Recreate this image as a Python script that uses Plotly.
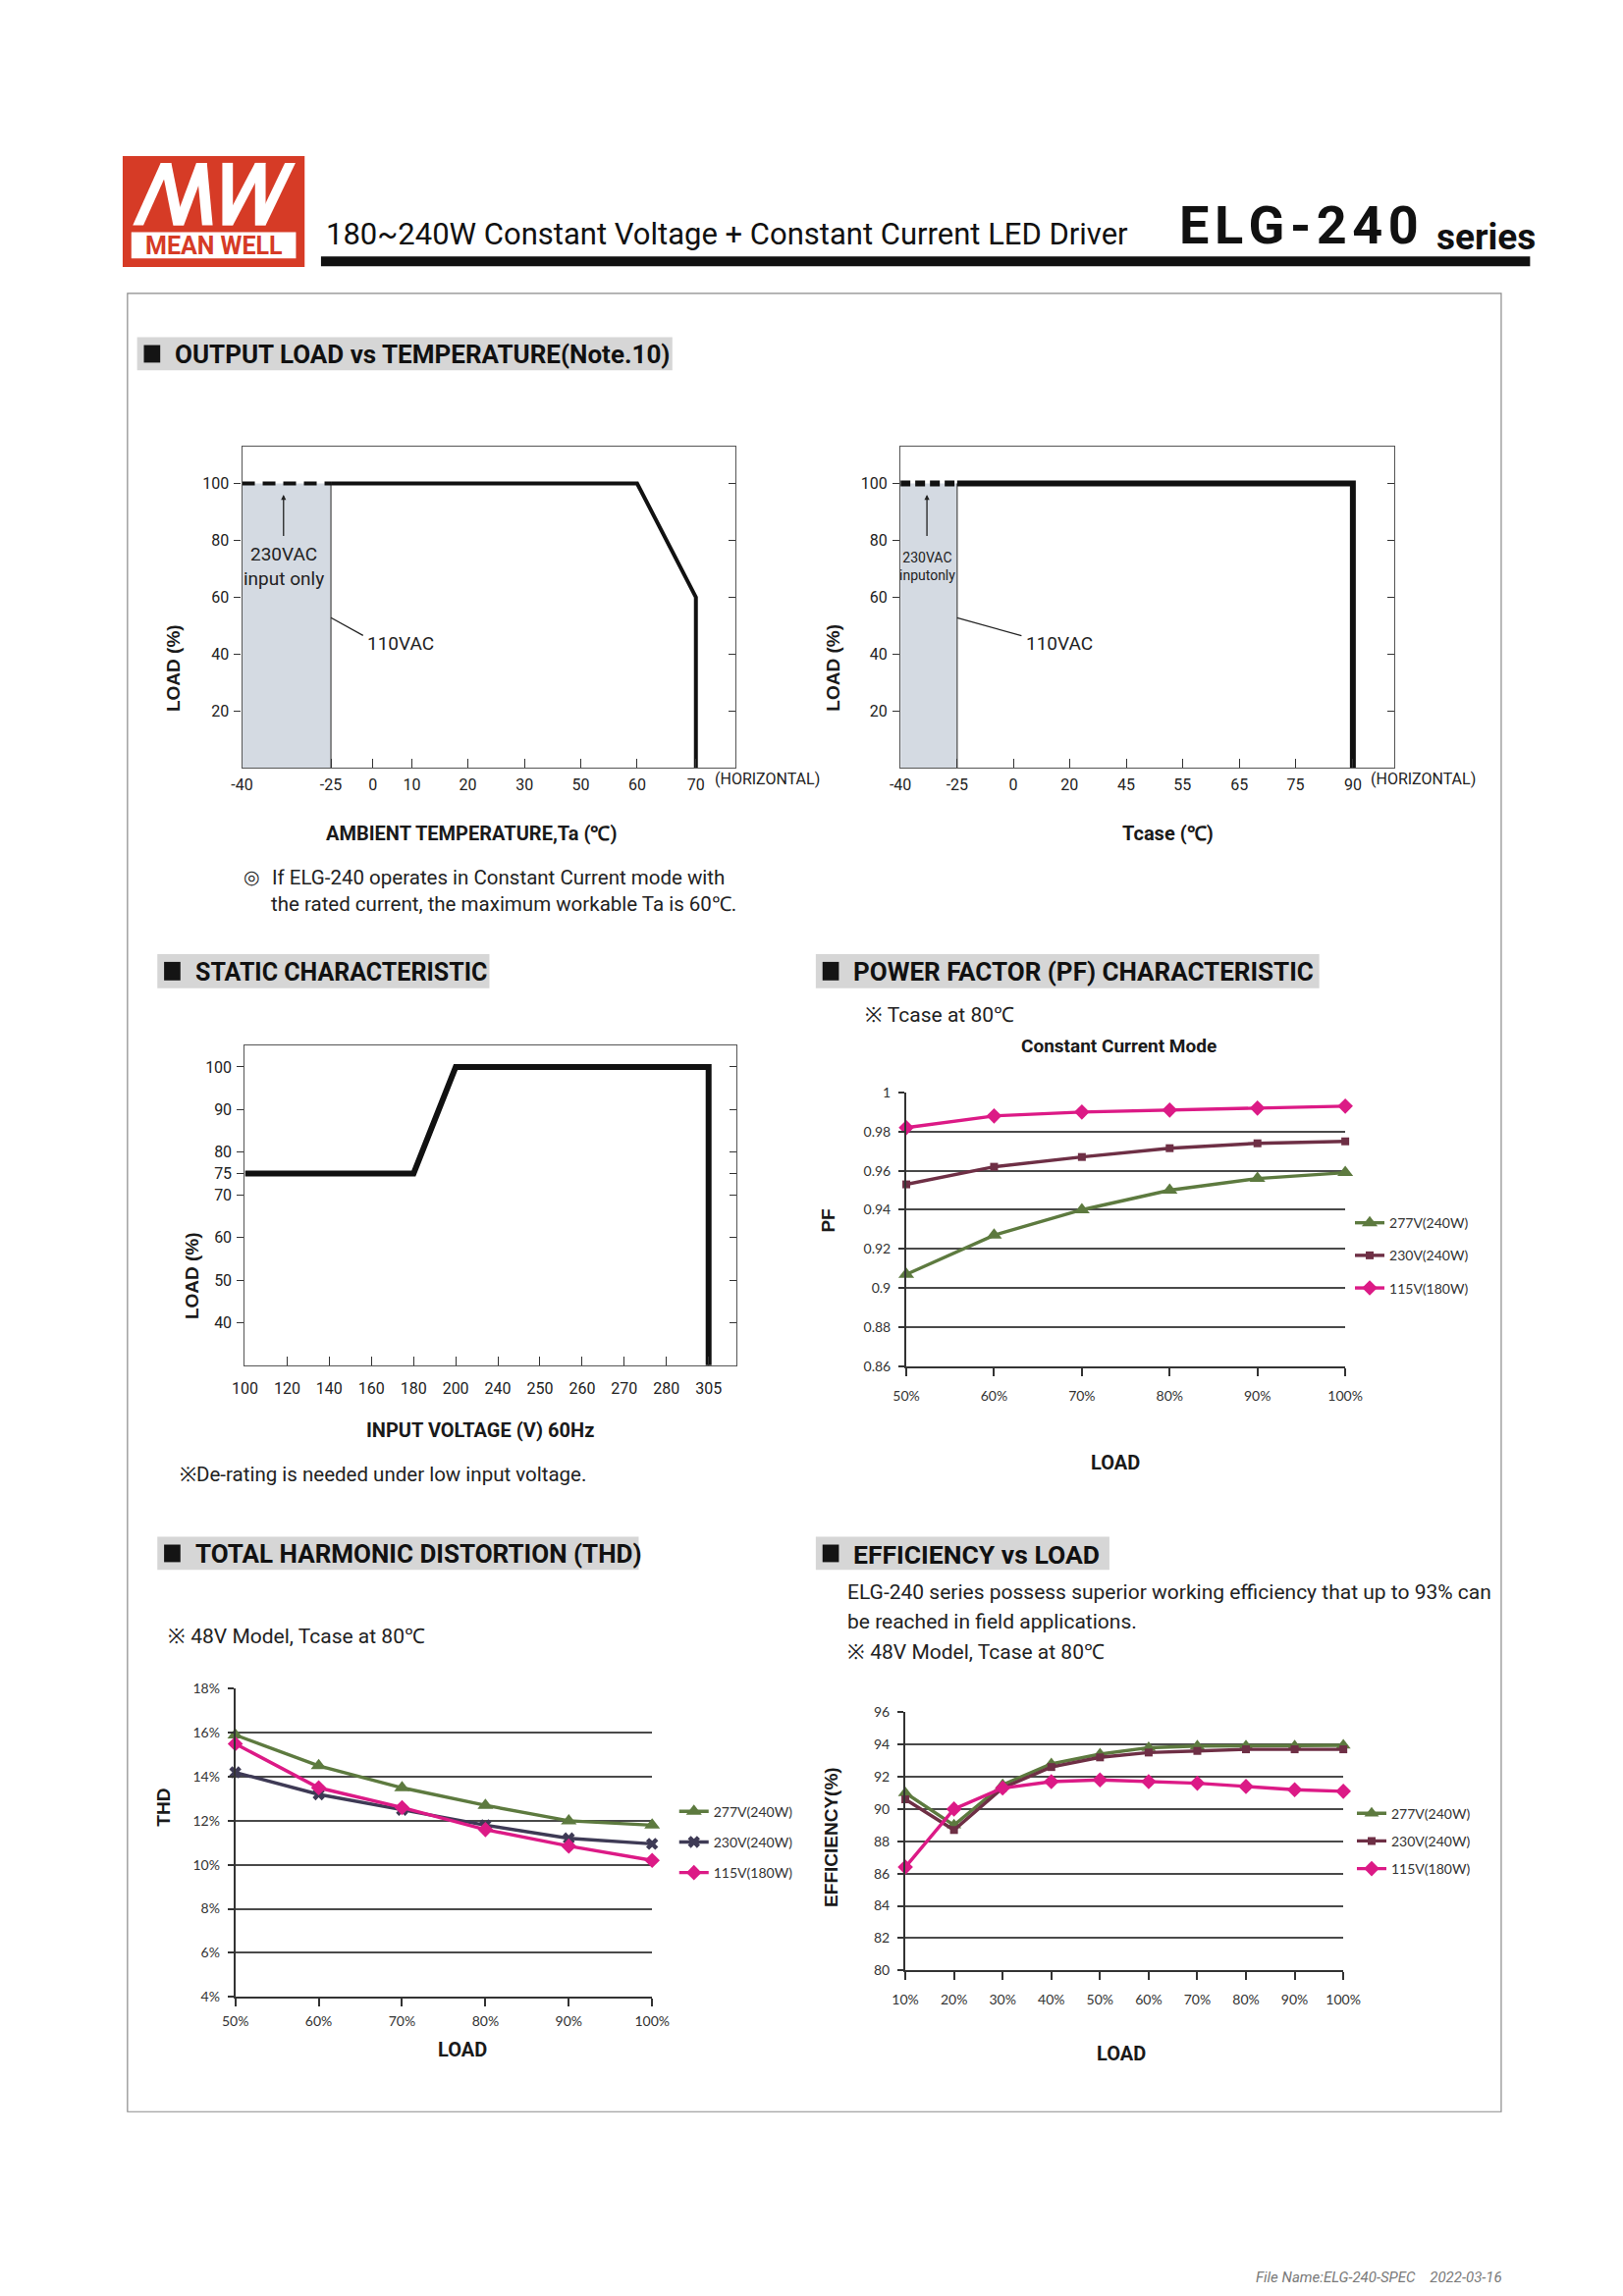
import numpy as np
import plotly.graph_objects as go

# page is 1653 x 2339; the browser body keeps its default 8px margin
PAGE_W, PAGE_H, OFF = 1653, 2339, 8
W, H = PAGE_W - 2 * OFF, PAGE_H - 2 * OFF

# ===================== DATA =====================
# Output load vs ambient temperature (left derating chart)
ta_tick_values = [-40, -25, 0, 10, 20, 30, 50, 60, 70]
ta_tick_labels = ["-40", "-25", "0", "10", "20", "30", "50", "60", "70"]
ta_solid_temp = [-25, 60, 70, 70]
ta_solid_load = [100, 100, 60, 0]
ta_dash_temp = [-40, -25]
ta_dash_load = [100, 100]

# Output load vs Tcase (right derating chart)
tc_tick_values = [-40, -25, 0, 20, 45, 55, 65, 75, 90]
tc_tick_labels = ["-40", "-25", "0", "20", "45", "55", "65", "75", "90"]
tc_solid_temp = [-25, 90, 90]
tc_solid_load = [100, 100, 0]
tc_dash_temp = [-40, -25]
tc_dash_load = [100, 100]

shade_temp = [-40, -25]          # "230VAC input only" zone
shade_load = 100
derate_y_ticks = [20, 40, 60, 80, 100]

# Static characteristic
vin_tick_values = [100, 120, 140, 160, 180, 200, 240, 250, 260, 270, 280, 305]
vin_tick_labels = [str(v) for v in vin_tick_values]
static_vin = [100, 180, 200, 305, 305]
static_load = [75, 75, 100, 100, 0]
static_y_ticks = [40, 50, 60, 70, 75, 80, 90, 100]

# Power factor (Constant Current Mode)
pf_load = ["50%", "60%", "70%", "80%", "90%", "100%"]
pf_277v = [0.907, 0.927, 0.940, 0.950, 0.956, 0.959]
pf_230v = [0.953, 0.962, 0.967, 0.9715, 0.974, 0.975]
pf_115v = [0.982, 0.988, 0.990, 0.991, 0.992, 0.993]
pf_tick_values = [0.86, 0.88, 0.90, 0.92, 0.94, 0.96, 0.98, 1.0]
pf_tick_labels = ["0.86", "0.88", "0.9", "0.92", "0.94", "0.96", "0.98", "1"]

# Total harmonic distortion
thd_load = ["50%", "60%", "70%", "80%", "90%", "100%"]
thd_277v = [15.9, 14.5, 13.5, 12.7, 12.0, 11.8]
thd_230v = [14.2, 13.2, 12.5, 11.8, 11.2, 10.95]
thd_115v = [15.5, 13.5, 12.6, 11.6, 10.85, 10.2]
thd_tick_values = [4, 6, 8, 10, 12, 14, 16, 18]
thd_tick_labels = ["4%", "6%", "8%", "10%", "12%", "14%", "16%", "18%"]

# Efficiency vs load
eff_load = ["10%", "20%", "30%", "40%", "50%", "60%", "70%", "80%", "90%", "100%"]
eff_277v = [91.0, 89.0, 91.5, 92.8, 93.4, 93.8, 93.9, 93.9, 93.9, 93.95]
eff_230v = [90.6, 88.7, 91.3, 92.6, 93.2, 93.5, 93.6, 93.7, 93.7, 93.7]
eff_115v = [86.4, 90.0, 91.3, 91.7, 91.8, 91.7, 91.6, 91.4, 91.2, 91.1]
eff_tick_values = [80, 82, 84, 86, 88, 90, 92, 94, 96]

series_names = ["277V(240W)", "230V(240W)", "115V(180W)"]

# ===================== STYLE =====================
NARROW = "Roboto, 'Liberation Sans', sans-serif"
ARIAL = "'Liberation Sans', Arial, sans-serif"
CAL = "Lato, 'Open Sans', sans-serif"
GREEN = "#5d7a3f"
MAROON = "#6e2f45"
MAGENTA = "#dc1a86"
SLATE = "#3e3a55"
RED = "#d63b26"
GRID = "#4a4a4a"
INK = "#1a1a1a"

# tick positions (fraction of axis) for the non-linear derating axes
ta_tick_pos = [0.0, 0.180, 0.265, 0.344, 0.457, 0.572, 0.686, 0.800, 0.919]
tc_tick_pos = [0.0, 0.1147, 0.2285, 0.342, 0.457, 0.571, 0.686, 0.800, 0.916]


def ta_pos(t):
    return np.interp(t, ta_tick_values, ta_tick_pos)


def tc_pos(t):
    return np.interp(t, tc_tick_values, tc_tick_pos)


def vin_pos(v):
    return np.interp(v, vin_tick_values, list(range(len(vin_tick_values))))


def dom(x0, y0, x1, y1):
    return [(x0 - OFF) / W, (x1 - OFF) / W], [1 - (y1 - OFF) / H, 1 - (y0 - OFF) / H]


def P(x, y):
    return (x - OFF) / W, 1 - (y - OFF) / H


fig = go.Figure()
annotations = []
shapes = []
axes = {}


def txt(x, y, s, size, family=NARROW, color=INK, xanchor="center", yanchor="middle",
        angle=0, bold=False):
    px_, py_ = P(x, y)
    annotations.append(dict(x=px_, y=py_, xref="paper", yref="paper",
                            text=f"<b>{s}</b>" if bold else s, showarrow=False,
                            font=dict(family=family, size=size, color=color),
                            xanchor=xanchor, yanchor=yanchor, textangle=angle))


def rect(x0, y0, x1, y1, fill, line=None, lw=0):
    a, b = P(x0, y0)
    c, d = P(x1, y1)
    shapes.append(dict(type="rect", xref="paper", yref="paper", x0=a, y0=d, x1=c, y1=b,
                       fillcolor=fill, line=dict(color=line or fill, width=lw), layer="below"))


def header(x0, y0, x1, y1, text, size):
    rect(x0, y0, x1, y1, "#d6d6d6")
    rect(x0 + 7, y0 + 8, x0 + 24, y1 - 8, "#141414")
    txt(x0 + 37, (y0 + y1) / 2 + 1, text, size, bold=True, xanchor="left", color="#111")


def box_axes(i, box, xr, xtv, xtt, yr, ytv, overlay_i, xlabel_size=16, xstandoff=2):
    xd, yd = dom(*box)
    sx = "" if i == 1 else str(i)
    axes["xaxis" + sx] = dict(domain=xd, anchor="y" + sx, range=xr, tickvals=xtv, ticktext=xtt,
                              ticks="inside", ticklen=9, tickwidth=1.2, tickcolor="#333",
                              showline=True, linecolor="#555", linewidth=1.3, mirror=True,
                              showgrid=False, zeroline=False, ticklabelstandoff=xstandoff,
                              tickfont=dict(family=NARROW, size=xlabel_size, color="#222"))
    axes["yaxis" + sx] = dict(domain=yd, anchor="x" + sx, range=yr, tickvals=ytv,
                              ticks="outside", ticklen=7, tickwidth=1.2, tickcolor="#333",
                              showline=True, linecolor="#555", linewidth=1.3, mirror=True,
                              showgrid=False, zeroline=False, ticklabelstandoff=2,
                              tickfont=dict(family=NARROW, size=16, color="#222"))
    axes["yaxis" + str(overlay_i)] = dict(overlaying="y" + sx, anchor="x" + sx, side="right",
                                          range=yr, tickvals=ytv, ticks="inside", ticklen=7,
                                          tickwidth=1.2, tickcolor="#333", showticklabels=False,
                                          showline=False, showgrid=False, zeroline=False)
    fig.add_trace(go.Scatter(x=[], y=[], xaxis="x" + sx, yaxis="y" + str(overlay_i),
                             showlegend=False, hoverinfo="skip"))


def chart_axes(i, box, cats, ytv, ytt, yr, xstandoff):
    xd, yd = dom(*box)
    sx = str(i)
    axes["xaxis" + sx] = dict(domain=xd, anchor="y" + sx, type="category",
                              range=[0, len(cats) - 1], ticks="outside", ticklen=8, tickwidth=2,
                              tickcolor="#333", showline=True, linecolor="#333", linewidth=2,
                              showgrid=False, zeroline=False, ticklabelstandoff=xstandoff,
                              tickfont=dict(family=CAL, size=14, color="#333"))
    axes["yaxis" + sx] = dict(domain=yd, anchor="x" + sx, range=yr, tickvals=ytv, ticktext=ytt,
                              ticks="outside", ticklen=6, tickwidth=2, tickcolor="#333",
                              showline=True, linecolor="#333", linewidth=2, showgrid=True,
                              gridcolor=GRID, gridwidth=2, zeroline=False, ticklabelstandoff=5,
                              tickfont=dict(family=CAL, size=14, color="#333"))


# ===================== PAGE FURNITURE =====================
# logo
rect(113, 151, 302, 265, RED)
rect(122, 229, 293, 256, "#ffffff")
txt(208, 243, "MEAN WELL", 25, family=NARROW, color=RED, bold=True)
strokes = [(129, 158), (171, 158), (171, 195), (201, 195),   # M
           (222, 222), (222, 256), (256, 256), (256, 287)]   # W  (bottom x, top x)
for bx, tx in strokes:
    w = 11
    a = [P(bx - w / 2, 222), P(tx - w / 2, 158), P(tx + w / 2, 158), P(bx + w / 2, 222)]
    path = "M " + " L ".join(f"{u:.5f},{v:.5f}" for u, v in a) + " Z"
    shapes.append(dict(type="path", xref="paper", yref="paper", path=path,
                       fillcolor="#ffffff", line=dict(width=0), layer="above"))

txt(322, 231, "180~240W Constant Voltage + Constant Current LED Driver", 31, xanchor="left",
    color="#111")
txt(1208, 222, "E\u200aL\u200aG\u200a-\u200a2\u200a4\u200a0", 54, bold=True, xanchor="left", color="#111")
txt(1476, 234, "series", 37, bold=True, xanchor="left", color="#111")
rect(319, 254, 1575, 264, "#111111")
# page frame
a0, b0 = P(118, 292)
a1, b1 = P(1545, 2158)
shapes.append(dict(type="rect", xref="paper", yref="paper", x0=a0, y0=b1, x1=a1, y1=b0,
                   line=dict(color="#8a8a8a", width=1.2), fillcolor="rgba(0,0,0,0)", layer="below"))
txt(1548, 2328, "<i>File Name:ELG-240-SPEC\u00a0\u00a0\u00a0 2022-03-16</i>", 15, color="#7a7a7a",
    xanchor="right")

# section headers
header(128, 337, 684, 371, "OUTPUT LOAD vs TEMPERATURE(Note.10)", 26)
header(149, 970, 494, 1005, "STATIC CHARACTERISTIC", 25)
header(833, 970, 1356, 1005, "POWER FACTOR (PF) CHARACTERISTIC", 26)
header(149, 1568, 649, 1602, "TOTAL HARMONIC DISTORTION (THD)", 26)
header(833, 1568, 1138, 1602, "EFFICIENCY vs LOAD", 26.5)

# ===================== DERATING CHARTS =====================
for i, (box, tv, tp, tt, posf, dash_t, dash_l, sol_t, sol_l, lw, dashpat, ov) in enumerate([
        ((237, 449, 750, 779), ta_tick_values, ta_tick_pos, ta_tick_labels, ta_pos,
         ta_dash_temp, ta_dash_load, ta_solid_temp, ta_solid_load, 4, "13px,8px", 7),
        ((921, 449, 1434, 779), tc_tick_values, tc_tick_pos, tc_tick_labels, tc_pos,
         tc_dash_temp, tc_dash_load, tc_solid_temp, tc_solid_load, 6, "10px,5px", 8)], start=1):
    sx = "" if i == 1 else str(i)
    box_axes(i, box, [0, 1], tp, tt, [0, 113], derate_y_ticks, ov)
    xa, ya = "x" + sx, "y" + sx
    s0, s1 = posf(shade_temp[0]), posf(shade_temp[1])
    fig.add_trace(go.Scatter(x=[s0, s0, s1, s1], y=[0, shade_load, shade_load, 0], fill="toself",
                             fillcolor="#d4dae2", line=dict(width=0), mode="lines",
                             xaxis=xa, yaxis=ya, showlegend=False, hoverinfo="skip"))
    fig.add_trace(go.Scatter(x=[s1, s1], y=[0, shade_load], mode="lines",
                             line=dict(color="#555", width=1.3), xaxis=xa, yaxis=ya,
                             showlegend=False, hoverinfo="skip"))
    fig.add_trace(go.Scatter(x=posf(dash_t), y=dash_l, mode="lines",
                             line=dict(color="#111", width=lw, dash=dashpat), xaxis=xa, yaxis=ya,
                             showlegend=False))
    fig.add_trace(go.Scatter(x=posf(sol_t), y=sol_l, mode="lines",
                             line=dict(color="#111", width=lw), xaxis=xa, yaxis=ya,
                             showlegend=False))
    small = (i == 2)
    annotations.append(dict(x=posf(-33), y=96, ax=posf(-33), ay=81, xref=xa, yref=ya,
                            axref=xa, ayref=ya, text="", showarrow=True, arrowhead=2,
                            arrowsize=0.8, arrowwidth=1.3, arrowcolor="#222"))
    annotations.append(dict(x=posf(-33), y=71, xref=xa, yref=ya, showarrow=False,
                            text="230VAC<br>inputonly" if small else "230VAC<br>input only",
                            font=dict(family=NARROW, size=14 if small else 19, color="#222")))
    annotations.append(dict(x=s1, y=52.8, ax=0.248, ay=46.3, xref=xa, yref=ya, axref=xa,
                            ayref=ya, text="", showarrow=True, arrowhead=0, arrowwidth=1.3,
                            arrowcolor="#222", standoff=0))
    annotations.append(dict(x=0.25, y=43.8, xref=xa, yref=ya, showarrow=False, text="110VAC",
                            xanchor="left", font=dict(family=NARROW, size=19, color="#222")))

txt(783, 790, "(HORIZONTAL)", 16, color="#222")
txt(1464, 790, "(HORIZONTAL)", 16, color="#222")
txt(165, 676, "LOAD (%)", 19, family=ARIAL, bold=True, angle=-90)
txt(851, 676, "LOAD (%)", 19, family=ARIAL, bold=True, angle=-90)
txt(475, 846, "AMBIENT TEMPERATURE,Ta (℃)", 20, bold=True)
txt(1199, 846, "Tcase (℃)", 20, bold=True)
txt(236, 891, "◎", 19, xanchor="left", color="#222")
txt(266, 891, "If ELG-240 operates in Constant Current mode with", 20.5, xanchor="left", color="#222")
txt(265, 919, "the rated current, the maximum workable Ta is 60℃.", 20.5, xanchor="left", color="#222")

# ===================== STATIC CHARACTERISTIC =====================
box_axes(3, (240, 1064, 751, 1392), [0, 11.67], list(range(len(vin_tick_values))),
         vin_tick_labels, [30, 105], static_y_ticks, 9, xlabel_size=16, xstandoff=9)
fig.add_trace(go.Scatter(x=vin_pos(static_vin), y=static_load, mode="lines",
                         line=dict(color="#111", width=6), xaxis="x3", yaxis="y3",
                         showlegend=False))
txt(185, 1300, "LOAD (%)", 19, family=ARIAL, bold=True, angle=-90)
txt(484, 1459, "INPUT VOLTAGE (V) 60Hz", 20, bold=True)
txt(170, 1504, "※De-rating is needed under low input voltage.", 20.5, xanchor="left", color="#222")

# ===================== PF / THD / EFFICIENCY =====================
chart_axes(4, (927, 1112, 1383, 1393), pf_load, pf_tick_values, pf_tick_labels, [0.86, 1.0], 8)
chart_axes(5, (230, 1724, 663, 2040), thd_load, thd_tick_values, thd_tick_labels, [4, 18], 3)
chart_axes(6, (926, 1748, 1381, 2013), eff_load, eff_tick_values,
           [str(v) for v in eff_tick_values], [80, 96], 8)

specs = [
    ("4", "legend", pf_load, [pf_277v, pf_230v, pf_115v],
     [("triangle-up", 14, GREEN), ("square", 8, MAROON), ("diamond", 12, MAGENTA)]),
    ("5", "legend2", thd_load, [thd_277v, thd_230v, thd_115v],
     [("triangle-up", 14, GREEN), ("x", 11, SLATE), ("diamond", 12, MAGENTA)]),
    ("6", "legend3", eff_load, [eff_277v, eff_230v, eff_115v],
     [("triangle-up", 13, GREEN), ("square", 8, MAROON), ("diamond", 12, MAGENTA)]),
]
for sx, leg, cats, ys, marks in specs:
    for name, yv, (sym, sz, col) in zip(series_names, ys, marks):
        fig.add_trace(go.Scatter(x=cats, y=yv, name=name, mode="lines+markers",
                                 line=dict(color=col, width=3.4),
                                 marker=dict(symbol=sym, size=sz, color=col,
                                             line=dict(width=0)),
                                 cliponaxis=False, xaxis="x" + sx, yaxis="y" + sx,
                                 legend=leg, legendgroup=leg + name))

txt(882, 1032, "※ Tcase at 80℃", 21, xanchor="left", color="#222")
txt(1148, 1064, "Constant Current Mode", 19, bold=True)
txt(846, 1244, "PF", 19, family=ARIAL, bold=True, angle=-90)
txt(1144, 1492, "LOAD", 20, bold=True)

txt(158, 1670, "※ 48V Model, Tcase at 80℃", 21, xanchor="left", color="#222")
txt(155, 1846, "THD", 19, family=ARIAL, bold=True, angle=-90)
txt(466, 2094, "LOAD", 20, bold=True)

txt(864, 1625, "ELG-240 series possess superior working efficiency that up to 93% can", 21,
    xanchor="left", color="#222")
txt(864, 1655, "be reached in field applications.", 21, xanchor="left", color="#222")
txt(864, 1686, "※ 48V Model, Tcase at 80℃", 21, xanchor="left", color="#222")
txt(849, 1876, "EFFICIENCY(%)", 19, family=ARIAL, bold=True, angle=-90)
txt(1150, 2098, "LOAD", 20, bold=True)


def legend_cfg(x, y, gap):
    lx, ly = P(x, y)
    return dict(x=lx, y=ly, xanchor="left", yanchor="top", bgcolor="rgba(0,0,0,0)",
                font=dict(family=CAL, size=14, color="#333"), tracegroupgap=gap,
                itemwidth=30, traceorder="grouped")


fig.update_layout(
    width=W, height=H, margin=dict(l=0, r=0, t=0, b=0),
    paper_bgcolor="white", plot_bgcolor="white",
    showlegend=True,
    legend=legend_cfg(1388, 1230, 12),
    legend2=legend_cfg(686, 1834, 10),
    legend3=legend_cfg(1390, 1836, 7),
    annotations=annotations, shapes=shapes,
    **axes,
)

fig.write_html("out.html", config={"displayModeBar": False})
